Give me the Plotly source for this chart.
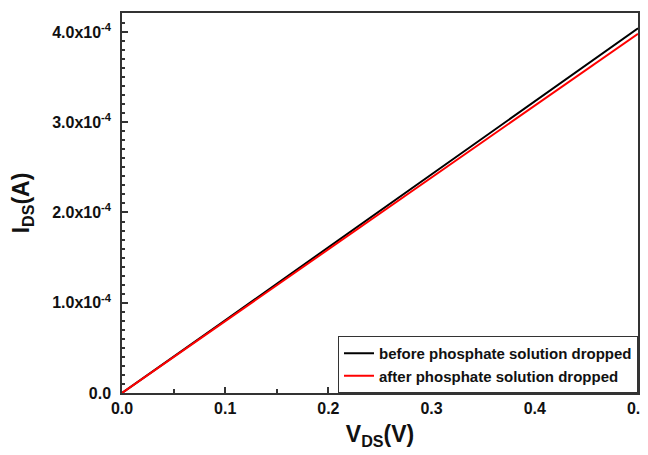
import plotly.graph_objects as go

# V_DS sweep (V) and drain current (A)
vds = [0.0, 0.05, 0.1, 0.15, 0.2, 0.25, 0.3, 0.35, 0.4, 0.45, 0.5]
ids_before = [0.0, 0.40e-4, 0.805e-4, 1.21e-4, 1.615e-4, 2.02e-4, 2.425e-4, 2.83e-4, 3.235e-4, 3.64e-4, 4.04e-4]
ids_after = [0.0, 0.398e-4, 0.797e-4, 1.195e-4, 1.594e-4, 1.992e-4, 2.39e-4, 2.789e-4, 3.187e-4, 3.585e-4, 3.98e-4]

y_ticks = [0, 1e-4, 2e-4, 3e-4, 4e-4]
y_labels = ["0.0", "1.0x10<sup>-4</sup>", "2.0x10<sup>-4</sup>", "3.0x10<sup>-4</sup>", "4.0x10<sup>-4</sup>"]
x_ticks = [0.0, 0.1, 0.2, 0.3, 0.4, 0.5]
x_labels = ["0.0", "0.1", "0.2", "0.3", "0.4", "0.5"]

fig = go.Figure()
fig.add_trace(go.Scatter(x=vds, y=ids_before, mode="lines", name="before phosphate solution dropped",
                         line=dict(color="black", width=2)))
fig.add_trace(go.Scatter(x=vds, y=ids_after, mode="lines", name="after phosphate solution dropped",
                         line=dict(color="red", width=2)))

axis_common = dict(
    showline=True, linecolor="#333", linewidth=1.5, mirror=True,
    ticks="inside", ticklen=6, tickwidth=1.5, tickcolor="#333",
    showgrid=False, zeroline=False, automargin=False,
    tickfont=dict(family="Arial", size=16, color="#111", weight="bold"),
)

fig.update_xaxes(
    range=[0, 0.5], tickvals=x_ticks, ticktext=x_labels,
    minor=dict(dtick=0.05, ticks="inside", ticklen=4, tickwidth=1.5, tickcolor="#333"),
    title=dict(text="V<sub>DS</sub>(V)", font=dict(family="Arial", size=23, color="#111", weight="bold"),
               standoff=10),
    **axis_common,
)
fig.update_yaxes(
    range=[0, 4.21e-4], tickvals=y_ticks, ticktext=y_labels,
    minor=dict(dtick=1e-5, ticks="inside", ticklen=3, tickwidth=1.5, tickcolor="#333"),
    title=dict(text="I<sub>DS</sub>(A)", font=dict(family="Arial", size=23, color="#111", weight="bold"),
               standoff=16),
    ticklabelstandoff=6,
    **axis_common,
)

fig.update_layout(
    width=648, height=455,
    margin=dict(l=114, r=18, t=5, b=70),
    plot_bgcolor="white", paper_bgcolor="white",
    legend=dict(x=1, y=0, xanchor="right", yanchor="bottom",
                bordercolor="#333", borderwidth=1, bgcolor="white",
                font=dict(family="Arial", size=15, color="#111", weight="bold"),
                tracegroupgap=0, itemwidth=30),
)

fig.write_html("out.html")
